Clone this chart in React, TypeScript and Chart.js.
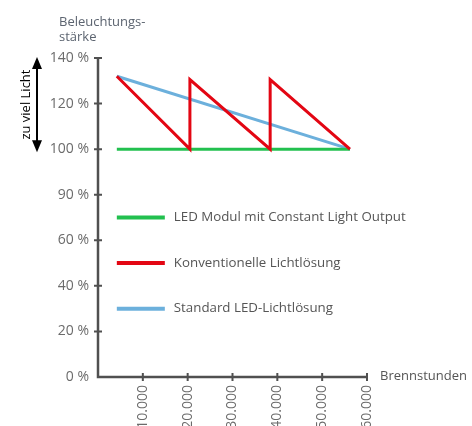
import React, { useEffect, useRef } from 'react';
import { Chart, registerables } from 'chart.js';

Chart.register(...registerables);

// ---- data ----
const yTickValues = [0, 20, 40, 60, 90, 100, 120, 140];
const yTickLabels = ['0 %', '20 %', '40 %', '60 %', '90 %', '100 %', '120 %', '140 %'];
const xTickValues = [10000, 20000, 30000, 40000, 50000, 60000];
const xTickLabels = ['10.000', '20.000', '30.000', '40.000', '50.000', '60.000'];

const seriesNames = [
  'LED Modul mit Constant Light Output',
  'Konventionelle Lichtlösung',
  'Standard LED-Lichtlösung',
];
const seriesColors = ['#22c04f', '#e30613', '#6cb0dc'];

const ledCloHours = [4200, 56200];
const ledCloPercent = [100, 100];
const conventionalHours = [4200, 20500, 20500, 38400, 38400, 56200];
const conventionalPercent = [132, 100, 130.5, 100, 130.5, 100];
const standardLedHours = [4200, 56200];
const standardLedPercent = [132, 100];

const yTitleLines = ['Beleuchtungs-', 'stärke'];
const xTitle = 'Brennstunden';
const arrowLabel = 'zu viel Licht';

// map a percentage onto the (non-linear) tick index axis
function toIndex(p: number): number {
  for (let i = 0; i < yTickValues.length - 1; i++) {
    const a = yTickValues[i];
    const b = yTickValues[i + 1];
    if (p >= a && p <= b) return i + (p - a) / (b - a);
  }
  return yTickValues.length - 1;
}

function pts(xs: number[], ys: number[]) {
  return xs.map((x, i) => ({ x, y: toIndex(ys[i]) }));
}

const FONT = '"Open Sans", "Noto Sans", sans-serif';
const AXIS_COLOR = '#505050';

const decorPlugin = {
  id: 'decor',
  afterDraw(chart: any) {
    const ctx = chart.ctx as CanvasRenderingContext2D;
    const xs = chart.scales.x;
    const ys = chart.scales.y;
    const left = chart.chartArea.left;
    const bottom = chart.chartArea.bottom;
    const top = chart.chartArea.top;
    const right = chart.chartArea.right;
    ctx.save();
    // axes
    ctx.strokeStyle = AXIS_COLOR;
    ctx.lineWidth = 2.5;
    ctx.beginPath();
    ctx.moveTo(left, top);
    ctx.lineTo(left, bottom);
    ctx.lineTo(right, bottom);
    ctx.stroke();
    ctx.lineWidth = 2;
    ctx.beginPath();
    for (let i = 1; i < yTickValues.length; i++) {
      const py = ys.getPixelForValue(i);
      ctx.moveTo(left - 4, py);
      ctx.lineTo(left + 4, py);
    }
    for (const v of xTickValues) {
      const px = xs.getPixelForValue(v);
      ctx.moveTo(px, bottom - 4);
      ctx.lineTo(px, bottom + 4);
    }
    ctx.stroke();

    // legend inside plot
    const legendRows = [3.5, 2.5, 1.5];
    const lx = xs.getPixelForValue(ledCloHours[0]);
    chart.data.datasets.forEach((ds: any, i: number) => {
      const py = ys.getPixelForValue(legendRows[i]);
      ctx.strokeStyle = ds.borderColor;
      ctx.lineWidth = 4;
      ctx.beginPath();
      ctx.moveTo(lx, py);
      ctx.lineTo(lx + 48, py);
      ctx.stroke();
      ctx.fillStyle = '#555555';
      ctx.font = `13.3px ${FONT}`;
      ctx.textBaseline = 'middle';
      ctx.textAlign = 'left';
      ctx.fillText(ds.label, lx + 57, py);
    });

    // y title
    ctx.fillStyle = '#5c6470';
    ctx.font = `13px ${FONT}`;
    ctx.textBaseline = 'alphabetic';
    ctx.textAlign = 'left';
    ctx.fillText(yTitleLines[0], 59, 26);
    ctx.fillText(yTitleLines[1], 59, 41);

    // x title
    ctx.fillStyle = '#555555';
    ctx.font = `13px ${FONT}`;
    ctx.textBaseline = 'middle';
    ctx.fillText(xTitle, right + 13, bottom - 1);

    // double arrow with label
    const ax = 37;
    const aTop = ys.getPixelForValue(7) - 1;
    const aBot = ys.getPixelForValue(5) + 3;
    ctx.strokeStyle = '#000';
    ctx.fillStyle = '#000';
    ctx.lineWidth = 2;
    ctx.beginPath();
    ctx.moveTo(ax, aTop + 8);
    ctx.lineTo(ax, aBot - 8);
    ctx.stroke();
    ctx.beginPath();
    ctx.moveTo(ax, aTop);
    ctx.lineTo(ax - 5, aTop + 12);
    ctx.lineTo(ax + 5, aTop + 12);
    ctx.closePath();
    ctx.fill();
    ctx.beginPath();
    ctx.moveTo(ax, aBot);
    ctx.lineTo(ax - 5, aBot - 12);
    ctx.lineTo(ax + 5, aBot - 12);
    ctx.closePath();
    ctx.fill();
    ctx.save();
    ctx.translate(26, (aTop + aBot) / 2);
    ctx.rotate(-Math.PI / 2);
    ctx.font = `13px ${FONT}`;
    ctx.textAlign = 'center';
    ctx.textBaseline = 'middle';
    ctx.fillText(arrowLabel, 0, 0);
    ctx.restore();

    ctx.restore();
  },
};

export default function App() {
  const ref = useRef<HTMLCanvasElement | null>(null);
  useEffect(() => {
    document.body.style.margin = '0';
    const canvas = ref.current!;
    const chart = new Chart(canvas, {
      type: 'line',
      data: {
        datasets: [
          {
            label: seriesNames[0],
            data: pts(ledCloHours, ledCloPercent),
            borderColor: seriesColors[0],
            borderWidth: 3,
            pointRadius: 0,
            order: 1,
          },
          {
            label: seriesNames[1],
            data: pts(conventionalHours, conventionalPercent),
            borderColor: seriesColors[1],
            borderWidth: 3,
            pointRadius: 0,
            order: 0,
          },
          {
            label: seriesNames[2],
            data: pts(standardLedHours, standardLedPercent),
            borderColor: seriesColors[2],
            borderWidth: 3,
            pointRadius: 0,
            order: 2,
          },
        ],
      },
      options: {
        responsive: false,
        animation: false,
        layout: { padding: { top: 58, right: 105, left: 0, bottom: 0 } },
        plugins: { legend: { display: false }, tooltip: { enabled: false } },
        scales: {
          x: {
            type: 'linear',
            min: 0,
            max: 60000,
            afterBuildTicks: (scale: any) => {
              scale.ticks = xTickValues.map((v) => ({ value: v }));
            },
            afterFit: (scale: any) => {
              scale.height = 49;
            },
            grid: { display: false, drawTicks: false },
            border: { display: false },
            ticks: {
              autoSkip: false,
              minRotation: 90,
              maxRotation: 90,
              padding: 8,
              color: '#6b6b6b',
              font: { family: FONT, size: 14 },
              callback: (v: any) => {
                const i = xTickValues.indexOf(Number(v));
                return i >= 0 ? xTickLabels[i] : '';
              },
            },
          },
          y: {
            type: 'linear',
            min: 0,
            max: yTickValues.length - 1,
            afterBuildTicks: (scale: any) => {
              scale.ticks = yTickValues.map((_, i) => ({ value: i }));
            },
            afterFit: (scale: any) => {
              scale.width = 98;
            },
            grid: { display: false, drawTicks: false },
            border: { display: false },
            ticks: {
              padding: 9,
              color: '#6b6b6b',
              font: { family: FONT, size: 14 },
              callback: (v: any) => yTickLabels[Math.round(Number(v))] ?? '',
            },
          },
        },
      },
      plugins: [decorPlugin],
    });
    return () => chart.destroy();
  }, []);
  return (
    <div style={{ position: 'absolute', left: 0, top: 0, width: 472, height: 426, background: '#fff' }}>
      <canvas ref={ref} width={472} height={426} style={{ display: 'block' }} />
    </div>
  );
}
